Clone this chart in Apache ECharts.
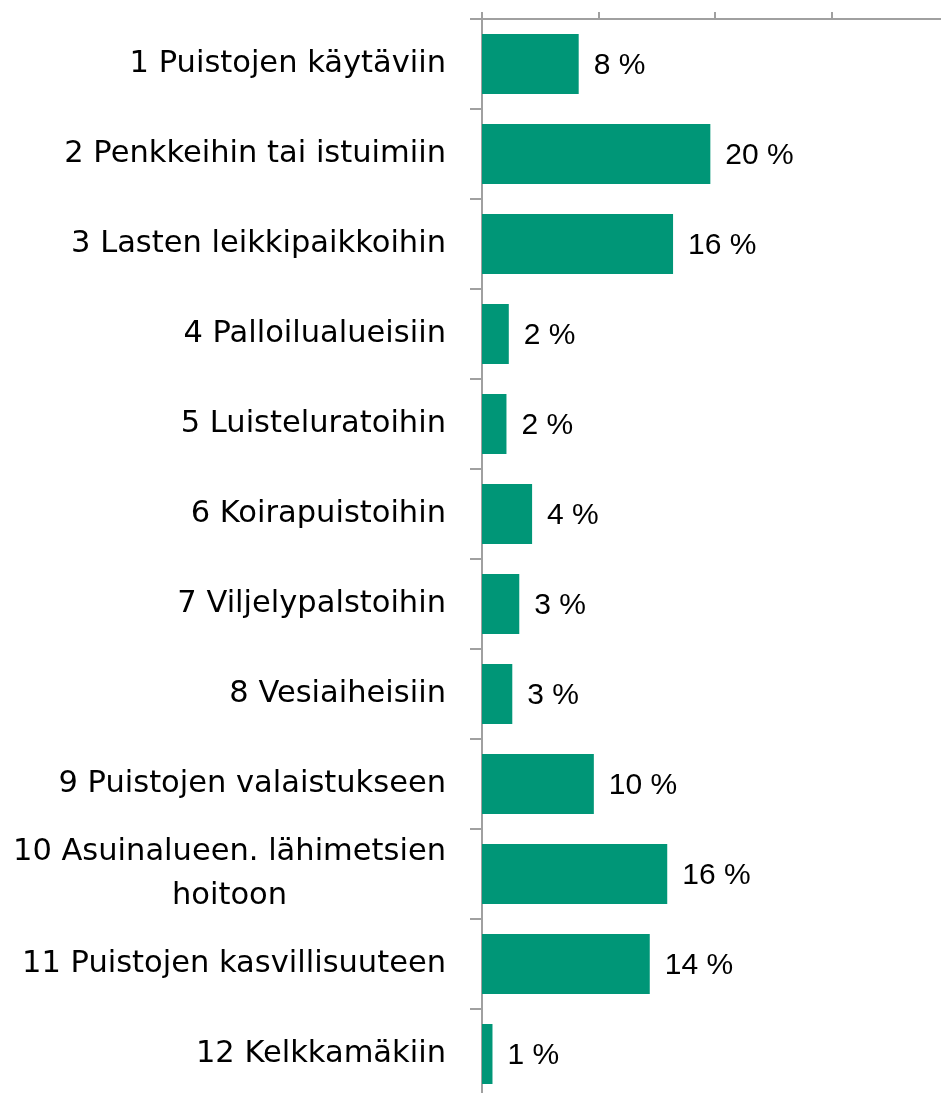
<!DOCTYPE html>
<html>
<head>
<meta charset="utf-8">
<script src="https://cdn.jsdelivr.net/npm/echarts@6/dist/echarts.min.js"></script>
<style>
  html, body { margin: 0; padding: 0; background: #fff; overflow: hidden; }
  #chart { width: 948px; height: 1099px; }
</style>
</head>
<body>
<div id="chart"></div>
<script>
// kategoriat ylhäältä alas
const categories = [
  '1 Puistojen käytäviin',
  '2 Penkkeihin tai istuimiin',
  '3 Lasten leikkipaikkoihin',
  '4 Palloilualueisiin',
  '5 Luisteluratoihin',
  '6 Koirapuistoihin',
  '7 Viljelypalstoihin',
  '8 Vesiaiheisiin',
  '9 Puistojen valaistukseen',
  '10 Asuinalueen. lähimetsien\nhoitoon',
  '11 Puistojen kasvillisuuteen',
  '12 Kelkkamäkiin'
]
const values = [8.3, 19.6, 16.4, 2.3, 2.1, 4.3, 3.2, 2.6, 9.6, 15.9, 14.4, 0.9]
const xTicks = [0, 10, 20, 30, 40]

const FONT = 'DejaVu Sans'
const chart = echarts.init(document.getElementById('chart'))

const option = {
  animation: false,
  grid: { left: 482, right: 0, top: 19, bottom: 0 },
  xAxis: {
    type: 'value',
    position: 'top',
    min: xTicks[0],
    max: xTicks[xTicks.length - 1],
    interval: 10,
    axisLine: { show: true, lineStyle: { color: '#a0a0a0', width: 2 } },
    axisTick: { show: true, length: 7, lineStyle: { color: '#a0a0a0', width: 2 } },
    axisLabel: { show: false },
    splitLine: { show: false }
  },
  yAxis: {
    type: 'category',
    inverse: true,
    data: categories,
    axisLine: { show: true, lineStyle: { color: '#a0a0a0', width: 2 } },
    axisTick: { show: true, length: 12, lineStyle: { color: '#a0a0a0', width: 2 } },
    axisLabel: {
      margin: 36,
      color: '#000',
      fontFamily: FONT,
      fontSize: 30.5,
      formatter: v => '{c|' + v + '}',
      rich: {
        c: { align: 'center', fontFamily: FONT, fontSize: 30.5, lineHeight: 44, color: '#000' }
      }
    }
  },
  series: [{
    type: 'bar',
    data: values,
    barWidth: 60,
    itemStyle: { color: '#009677' },
    label: {
      show: true,
      position: 'right',
      distance: 15,
      offset: [0, 2],
      color: '#000',
      fontFamily: 'Liberation Sans',
      fontSize: 30,
      formatter: p => Math.round(p.value) + ' %'
    }
  }]
}
chart.setOption(option)
</script>
</body>
</html>
